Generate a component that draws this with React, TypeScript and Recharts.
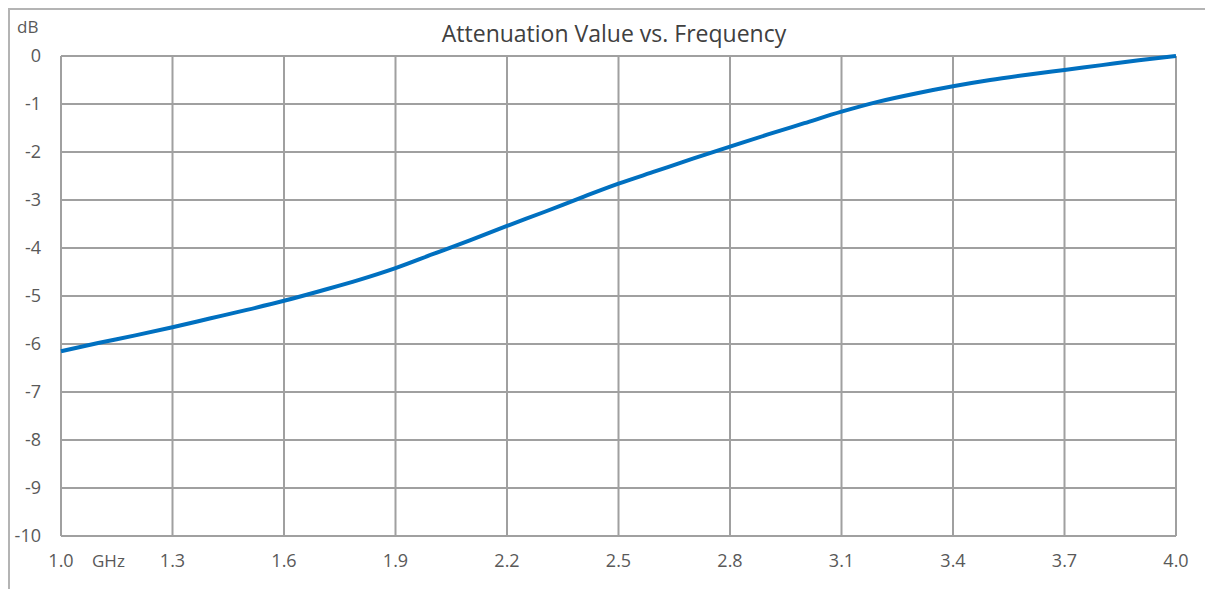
import { LineChart, Line, XAxis, YAxis, CartesianGrid } from 'recharts';

// frequency (GHz) and attenuation (dB)
const freqGHz = [
  1.0, 1.1, 1.2, 1.3, 1.4, 1.5, 1.6, 1.7, 1.8, 1.9, 2.0, 2.1, 2.2, 2.3, 2.4, 2.5,
  2.6, 2.7, 2.8, 2.9, 3.0, 3.1, 3.2, 3.3, 3.4, 3.5, 3.6, 3.7, 3.8, 3.9, 4.0,
];
const attenDb = [
  -6.15, -5.98, -5.82, -5.65, -5.47, -5.29, -5.1, -4.89, -4.67, -4.42, -4.13, -3.84,
  -3.54, -3.25, -2.95, -2.66, -2.4, -2.14, -1.89, -1.64, -1.4, -1.16, -0.95, -0.78,
  -0.63, -0.5, -0.39, -0.29, -0.19, -0.09, 0,
];
const xTicks = [1.0, 1.3, 1.6, 1.9, 2.2, 2.5, 2.8, 3.1, 3.4, 3.7, 4.0];
const yTicks = [0, -1, -2, -3, -4, -5, -6, -7, -8, -9, -10];

const data = freqGHz.map((f, i) => ({ f, db: attenDb[i] }));

const font = '"Open Sans", sans-serif';
const tickStyle = { fontSize: 18, fill: '#595959', fontFamily: font };

export default function App() {
  return (
    <div
      style={{
        position: 'relative',
        width: 1196,
        height: 600,
        border: '2px solid #b4b4b4',
        background: '#fff',
        overflow: 'hidden',
      }}
    >
      <div
        style={{
          position: 'absolute',
          left: 604,
          top: 9,
          transform: 'translateX(-50%)',
          fontFamily: font,
          fontSize: 23,
          lineHeight: '28px',
          color: '#404040',
          whiteSpace: 'nowrap',
        }}
      >
        Attenuation Value vs. Frequency
      </div>
      <div
        style={{
          position: 'absolute',
          left: 7,
          top: 7,
          fontFamily: font,
          fontSize: 17,
          lineHeight: '20px',
          color: '#595959',
        }}
      >
        dB
      </div>
      <div
        style={{
          position: 'absolute',
          left: 82,
          top: 541,
          fontFamily: font,
          fontSize: 17,
          lineHeight: '20px',
          color: '#595959',
        }}
      >
        GHz
      </div>
      <LineChart width={1196} height={600} data={data} margin={{ top: 46, right: 30, left: 0, bottom: 34 }}>
        <CartesianGrid stroke="#a0a0a0" strokeWidth={2} horizontalValues={yTicks} verticalValues={xTicks} />
        <XAxis
          dataKey="f"
          type="number"
          domain={[1, 4]}
          ticks={xTicks}
          tickFormatter={(v: number) => v.toFixed(1)}
          axisLine={false}
          tickLine={false}
          tickSize={0}
          tickMargin={18}
          height={40}
          tick={tickStyle}
          interval={0}
        />
        <YAxis
          type="number"
          domain={[-10, 0]}
          ticks={yTicks}
          axisLine={false}
          tickLine={false}
          tickSize={0}
          tickMargin={20}
          width={51}
          tick={tickStyle}
          interval={0}
        />
        <Line
          type="monotone"
          dataKey="db"
          stroke="#0070c0"
          strokeWidth={4}
          dot={false}
          isAnimationActive={false}
        />
      </LineChart>
    </div>
  );
}
